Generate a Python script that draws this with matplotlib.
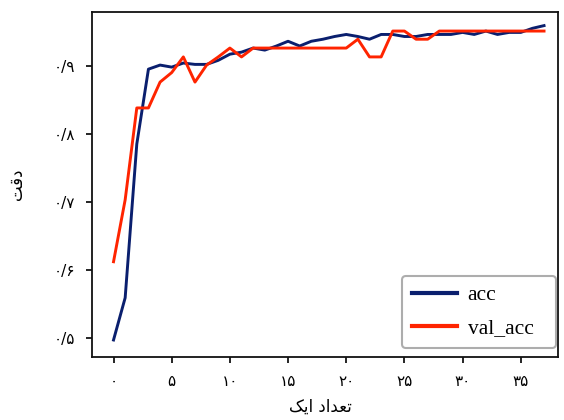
import matplotlib
matplotlib.use("Agg")
import matplotlib.pyplot as plt
from matplotlib.ticker import FixedLocator, FixedFormatter

epochs = list(range(38))
acc = [0.497, 0.559, 0.785, 0.895, 0.901, 0.898, 0.904, 0.902, 0.902, 0.908,
       0.917, 0.920, 0.926, 0.923, 0.929, 0.936, 0.929, 0.936, 0.939, 0.943,
       0.946, 0.943, 0.939, 0.946, 0.946, 0.943, 0.943, 0.946, 0.946, 0.946,
       0.949, 0.946, 0.951, 0.946, 0.949, 0.949, 0.955, 0.959]
val_acc = [0.612, 0.703, 0.838, 0.838, 0.876, 0.890, 0.913, 0.876, 0.901, 0.913,
           0.926, 0.913, 0.926, 0.926, 0.926, 0.926, 0.926, 0.926, 0.926, 0.926,
           0.926, 0.939, 0.913, 0.913, 0.951, 0.951, 0.939, 0.939, 0.951, 0.951,
           0.951, 0.951, 0.951, 0.951, 0.951, 0.951, 0.951, 0.951]

xticks = [0, 5, 10, 15, 20, 25, 30, 35]
xtick_labels = ["۰", "۵", "۱۰", "۱۵", "۲۰", "۲۵", "۳۰", "۳۵"]
yticks = [0.5, 0.6, 0.7, 0.8, 0.9]
ytick_labels = ["۰/۵", "۰/۶", "۰/۷", "۰/۸", "۰/۹"]
series_labels = ["acc", "val_acc"]
# Persian labels in visual (shaped, left-to-right) presentation forms
xlabel = "\uFB8F\uFBFE\uFE8D \uFEA9\uFE8D\uFEAA\uFECC\uFE97"   # تعداد ایک
ylabel = "\uFE96\uFED7\uFEA9"                                  # دقت

W, H = 564, 420
fig = plt.figure(figsize=(W / 100, H / 100), dpi=100)
ax = fig.add_axes([92 / W, 63 / H, 466 / W, 345 / H])

ax.plot(epochs, acc, color="#0a1f6e", lw=2.1, label=series_labels[0])
ax.plot(epochs, val_acc, color="#ff2400", lw=2.1, label=series_labels[1])

ax.set_xlim(-1.85, 38.2)
ax.set_ylim(0.472, 0.979)
ax.xaxis.set_major_locator(FixedLocator(xticks))
ax.xaxis.set_major_formatter(FixedFormatter(xtick_labels))
ax.yaxis.set_major_locator(FixedLocator(yticks))
ax.yaxis.set_major_formatter(FixedFormatter(ytick_labels))
ax.tick_params(axis="both", direction="out", length=4, width=1.2, labelsize=11, pad=8)
for t in ax.get_xticklabels() + ax.get_yticklabels():
    t.set_family(["DejaVu Sans"])
for s in ax.spines.values():
    s.set_linewidth(1.3)
    s.set_color("#111111")

fig.text(320 / W, 1 - 407 / H, xlabel, fontsize=12, family=["DejaVu Sans"],
         ha="center", va="center")
fig.text(17 / W, 1 - 184 / H, ylabel, fontsize=12, family=["DejaVu Sans"],
         ha="center", va="center", rotation=90)

leg = ax.legend(loc="lower left", prop={"family": "Liberation Serif", "size": 15.5},
                frameon=True, fancybox=True, handlelength=2.1, handletextpad=0.5,
                borderpad=0.45, labelspacing=0.6, borderaxespad=0, mode="expand",
                bbox_to_anchor=((402 - 92) / 466, 0.026, 154 / 466, 0.1))
leg.get_frame().set_edgecolor("#999999")
leg.get_frame().set_linewidth(1.5)
for line in leg.get_lines():
    line.set_linewidth(3)

fig.savefig("out.png", dpi=100)
